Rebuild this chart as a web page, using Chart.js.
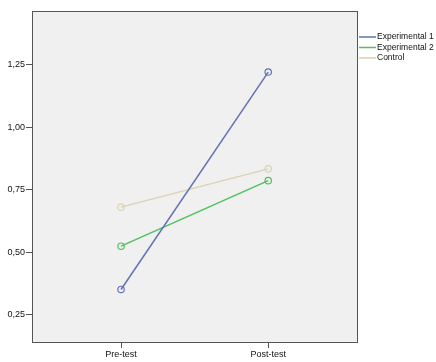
<!DOCTYPE html>
<html>
<head>
<meta charset="utf-8">
<script src="https://cdn.jsdelivr.net/npm/chart.js@4"></script>
<style>
html,body{margin:0;padding:0;background:#fff;}
canvas{display:block;}
</style>
</head>
<body>
<canvas id="c" width="436" height="362"></canvas>
<script>
const categories = ["Pre-test", "Post-test"];
const seriesNames = ["Experimental 1", "Experimental 2", "Control"];
const exp1 = [0.352, 1.221];
const exp2 = [0.525, 0.787];
const control = [0.681, 0.834];
const yTicks = [0.25, 0.50, 0.75, 1.00, 1.25];
const colors = ["#6471b3", "#4fc25a", "#d9d3b3"];

const seriesValues = [exp1, exp2, control];
const datasets = seriesValues.map((vals, i) => ({
  label: seriesNames[i],
  data: vals.map((v, j) => ({x: j, y: v})),
  borderColor: colors[i],
  backgroundColor: 'rgba(0,0,0,0)',
  pointBorderColor: colors[i],
  pointBackgroundColor: 'rgba(0,0,0,0)',
  pointRadius: 3.2,
  pointBorderWidth: 1.2,
  borderWidth: 1.5,
  tension: 0
}));

const FONT = {family: "'Liberation Sans', Arial, sans-serif", size: 9};

const frame = {
  id: 'frame',
  beforeDraw(chart) {
    const {ctx, chartArea: a} = chart;
    ctx.save();
    ctx.fillStyle = '#f0f0f0';
    ctx.fillRect(a.left, a.top, a.right - a.left, a.bottom - a.top);
    ctx.restore();
  },
  afterDraw(chart) {
    const {ctx, chartArea: a} = chart;
    ctx.save();
    ctx.strokeStyle = '#555';
    ctx.lineWidth = 1;
    ctx.strokeRect(a.left + 0.5, a.top + 0.5, a.right - a.left - 1, a.bottom - a.top - 1);
    // legend
    ctx.font = "8.5px 'Liberation Sans', Arial, sans-serif";
    ctx.textBaseline = 'middle';
    ctx.fillStyle = '#111';
    const ys = [37, 47.5, 58];
    chart.data.datasets.forEach((ds, i) => {
      ctx.strokeStyle = ds.borderColor;
      ctx.lineWidth = 1.5;
      ctx.beginPath();
      ctx.moveTo(a.right + 1, ys[i]);
      ctx.lineTo(a.right + 18, ys[i]);
      ctx.stroke();
      ctx.fillText(ds.label, a.right + 19, ys[i]);
    });
    ctx.restore();
  }
};

new Chart(document.getElementById('c'), {
  type: 'line',
  data: {datasets},
  options: {
    responsive: false,
    animation: false,
    devicePixelRatio: 1,
    layout: {padding: {top: 11, right: 78, bottom: 0, left: 0}},
    plugins: {legend: {display: false}, tooltip: {enabled: false}},
    scales: {
      x: {
        type: 'linear',
        min: -0.605,
        max: 1.61,
        afterBuildTicks(axis) { axis.ticks = categories.map((c, i) => ({value: i})); },
        afterFit(axis) { axis.height = 19; },
        ticks: {
          callback: (v) => categories[v],
          color: '#111',
          font: FONT,
          padding: 1,
          maxRotation: 0
        },
        grid: {drawOnChartArea: false, drawTicks: true, tickLength: 5, color: '#555'},
        border: {display: false}
      },
      y: {
        type: 'linear',
        min: 0.138,
        max: 1.465,
        afterBuildTicks(axis) { axis.ticks = yTicks.map(v => ({value: v})); },
        afterFit(axis) { axis.width = 32; },
        ticks: {
          callback: (v) => v.toFixed(2).replace('.', ','),
          color: '#111',
          font: FONT,
          padding: 1
        },
        grid: {drawOnChartArea: false, drawTicks: true, tickLength: 6, color: '#555'},
        border: {display: false}
      }
    }
  },
  plugins: [frame]
});
</script>
</body>
</html>
